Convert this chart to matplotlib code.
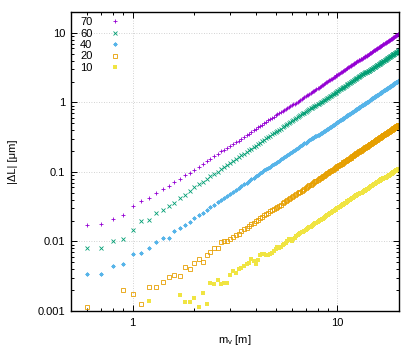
import matplotlib
matplotlib.use("Agg")
import matplotlib.pyplot as plt
from matplotlib.ticker import FuncFormatter, LogLocator, NullFormatter

# font with the Greek letters used in the axis label
plt.rcParams["font.family"] = ["Liberation Sans", "DejaVu Sans"]
plt.rcParams["font.size"] = 8
plt.rcParams["mathtext.fontset"] = "custom"
plt.rcParams["mathtext.rm"] = "Liberation Sans"

# --- data (m_v in m, |dL| in um) ---
mv = [0.6, 0.7, 0.8, 0.9, 1.0, 1.1, 1.2, 1.3, 1.4, 1.5, 1.6, 1.7, 1.8, 1.9,
      2.0, 2.1, 2.2, 2.3, 2.4, 2.5, 2.6, 2.7, 2.8, 2.9,
      3.0, 3.1, 3.2, 3.3, 3.4, 3.5, 3.6, 3.7, 3.8, 3.9,
      4.0, 4.1, 4.2, 4.3, 4.4, 4.5, 4.6, 4.7, 4.8, 4.9,
      5.0, 5.1, 5.2, 5.3, 5.4, 5.5, 5.6, 5.7, 5.8, 5.9,
      6.0, 6.1, 6.2, 6.3, 6.4, 6.5, 6.6, 6.7, 6.8, 6.9,
      7.0, 7.1, 7.2, 7.3, 7.4, 7.5, 7.6, 7.7, 7.8, 7.9,
      8.0, 8.1, 8.2, 8.3, 8.4, 8.5, 8.6, 8.7, 8.8, 8.9,
      9.0, 9.1, 9.2, 9.3, 9.4, 9.5, 9.6, 9.7, 9.8, 9.9,
      10.0, 10.1, 10.2, 10.3, 10.4, 10.5, 10.6, 10.7, 10.8, 10.9,
      11.0, 11.1, 11.2, 11.3, 11.4, 11.5, 11.6, 11.7, 11.8, 11.9,
      12.0, 12.1, 12.2, 12.3, 12.4, 12.5, 12.6, 12.7, 12.8, 12.9,
      13.0, 13.1, 13.2, 13.3, 13.4, 13.5, 13.6, 13.7, 13.8, 13.9,
      14.0, 14.1, 14.2, 14.3, 14.4, 14.5, 14.6, 14.7, 14.8, 14.9,
      15.0, 15.1, 15.2, 15.3, 15.4, 15.5, 15.6, 15.7, 15.8, 15.9,
      16.0, 16.1, 16.2, 16.3, 16.4, 16.5, 16.6, 16.7, 16.8, 16.9,
      17.0, 17.1, 17.2, 17.3, 17.4, 17.5, 17.6, 17.7, 17.8, 17.9,
      18.0, 18.1, 18.2, 18.3, 18.4, 18.5, 18.6, 18.7, 18.8, 18.9,
      19.0, 19.1, 19.2, 19.3, 19.4, 19.5, 19.6, 19.7, 19.8, 19.9, 20.0]

dl_70 = [0.0170, 0.0180, 0.0212, 0.0244, 0.0325, 0.0379, 0.0418, 0.0493, 0.0576, 0.0629, 0.0718, 0.0794, 0.0906, 0.0977,
         0.108, 0.119, 0.131, 0.143, 0.156, 0.169, 0.183, 0.197, 0.210, 0.223,
         0.236, 0.251, 0.266, 0.283, 0.301, 0.319, 0.337, 0.356, 0.375, 0.395,
         0.416, 0.437, 0.459, 0.481, 0.503, 0.527, 0.550, 0.574, 0.599, 0.624,
         0.650, 0.676, 0.703, 0.730, 0.758, 0.787, 0.815, 0.845, 0.868, 0.892,
         0.910, 0.935, 0.961, 0.992, 1.02, 1.06, 1.09, 1.12, 1.16, 1.19,
         1.23, 1.26, 1.30, 1.33, 1.37, 1.41, 1.44, 1.48, 1.52, 1.56,
         1.60, 1.64, 1.68, 1.72, 1.76, 1.81, 1.85, 1.89, 1.94, 1.98,
         2.03, 2.07, 2.12, 2.16, 2.21, 2.26, 2.30, 2.35, 2.40, 2.45,
         2.50, 2.55, 2.60, 2.65, 2.70, 2.76, 2.81, 2.86, 2.92, 2.97,
         3.03, 3.08, 3.14, 3.19, 3.25, 3.31, 3.36, 3.42, 3.48, 3.54,
         3.60, 3.66, 3.72, 3.78, 3.84, 3.91, 3.97, 4.02, 4.07, 4.11,
         4.16, 4.21, 4.27, 4.33, 4.40, 4.46, 4.53, 4.60, 4.67, 4.73,
         4.80, 4.87, 4.94, 5.01, 5.08, 5.15, 5.22, 5.29, 5.37, 5.44,
         5.51, 5.59, 5.66, 5.74, 5.81, 5.89, 5.96, 6.04, 6.12, 6.19,
         6.27, 6.35, 6.43, 6.51, 6.59, 6.67, 6.75, 6.83, 6.91, 7.00,
         7.08, 7.16, 7.25, 7.33, 7.42, 7.50, 7.59, 7.68, 7.76, 7.85,
         7.94, 8.03, 8.12, 8.20, 8.29, 8.39, 8.48, 8.57, 8.66, 8.75,
         8.84, 8.94, 9.03, 9.13, 9.22, 9.32, 9.41, 9.51, 9.60, 9.70, 9.80]

dl_60 = [0.00794, 0.00811, 0.0103, 0.0109, 0.0145, 0.0194, 0.0207, 0.0261, 0.0288, 0.0329, 0.0363, 0.0428, 0.0468, 0.0534,
         0.0600, 0.0662, 0.0726, 0.0794, 0.0864, 0.0938, 0.101, 0.109, 0.118, 0.126,
         0.135, 0.144, 0.154, 0.163, 0.173, 0.184, 0.194, 0.205, 0.217, 0.228,
         0.240, 0.252, 0.265, 0.277, 0.290, 0.304, 0.317, 0.331, 0.346, 0.360,
         0.375, 0.390, 0.406, 0.421, 0.437, 0.454, 0.470, 0.487, 0.505, 0.522,
         0.540, 0.558, 0.577, 0.595, 0.614, 0.634, 0.653, 0.673, 0.694, 0.714,
         0.735, 0.756, 0.778, 0.799, 0.821, 0.844, 0.862, 0.882, 0.902, 0.918,
         0.935, 0.955, 0.977, 0.999, 1.02, 1.05, 1.07, 1.10, 1.12, 1.15,
         1.17, 1.20, 1.23, 1.25, 1.28, 1.31, 1.34, 1.36, 1.39, 1.42,
         1.45, 1.48, 1.51, 1.54, 1.57, 1.60, 1.63, 1.66, 1.69, 1.72,
         1.75, 1.79, 1.82, 1.85, 1.88, 1.92, 1.95, 1.98, 2.02, 2.05,
         2.09, 2.12, 2.16, 2.19, 2.23, 2.27, 2.30, 2.34, 2.38, 2.41,
         2.45, 2.49, 2.53, 2.56, 2.60, 2.63, 2.67, 2.70, 2.73, 2.75,
         2.77, 2.80, 2.83, 2.86, 2.90, 2.94, 2.98, 3.03, 3.07, 3.11,
         3.15, 3.19, 3.23, 3.28, 3.32, 3.36, 3.41, 3.45, 3.49, 3.54,
         3.58, 3.63, 3.67, 3.72, 3.77, 3.81, 3.86, 3.90, 3.95, 4.00,
         4.05, 4.09, 4.14, 4.19, 4.24, 4.29, 4.34, 4.39, 4.44, 4.49,
         4.54, 4.59, 4.64, 4.69, 4.74, 4.79, 4.84, 4.90, 4.95, 5.00,
         5.05, 5.11, 5.16, 5.21, 5.27, 5.32, 5.38, 5.43, 5.49, 5.54, 5.60]

dl_40 = [0.00343, 0.00340, 0.00443, 0.00478, 0.00658, 0.00673, 0.00794, 0.00968, 0.0113, 0.0113, 0.0143, 0.0155, 0.0171, 0.0192,
         0.0216, 0.0238, 0.0261, 0.0286, 0.0311, 0.0338, 0.0365, 0.0394, 0.0423, 0.0454,
         0.0486, 0.0519, 0.0553, 0.0588, 0.0624, 0.0662, 0.0700, 0.0739, 0.0780, 0.0821,
         0.0864, 0.0908, 0.0953, 0.0998, 0.105, 0.109, 0.114, 0.119, 0.124, 0.130,
         0.135, 0.140, 0.146, 0.152, 0.157, 0.163, 0.169, 0.175, 0.182, 0.188,
         0.194, 0.201, 0.208, 0.214, 0.221, 0.228, 0.235, 0.242, 0.250, 0.257,
         0.265, 0.272, 0.280, 0.288, 0.296, 0.304, 0.312, 0.319, 0.326, 0.332,
         0.338, 0.344, 0.351, 0.358, 0.367, 0.376, 0.385, 0.394, 0.403, 0.412,
         0.421, 0.431, 0.440, 0.450, 0.459, 0.469, 0.479, 0.489, 0.499, 0.510,
         0.520, 0.530, 0.541, 0.552, 0.562, 0.573, 0.584, 0.595, 0.607, 0.618,
         0.629, 0.641, 0.652, 0.664, 0.676, 0.688, 0.700, 0.712, 0.724, 0.736,
         0.749, 0.761, 0.774, 0.787, 0.800, 0.812, 0.826, 0.839, 0.852, 0.865,
         0.879, 0.892, 0.906, 0.920, 0.934, 0.948, 0.962, 0.976, 0.990, 1.00,
         1.02, 1.03, 1.05, 1.06, 1.08, 1.09, 1.11, 1.12, 1.14, 1.15,
         1.17, 1.19, 1.20, 1.22, 1.23, 1.25, 1.27, 1.28, 1.30, 1.31,
         1.33, 1.35, 1.36, 1.38, 1.40, 1.42, 1.43, 1.45, 1.47, 1.49,
         1.50, 1.52, 1.54, 1.56, 1.57, 1.59, 1.61, 1.63, 1.65, 1.67,
         1.68, 1.70, 1.72, 1.74, 1.76, 1.78, 1.80, 1.82, 1.84, 1.86,
         1.88, 1.90, 1.92, 1.94, 1.96, 1.98, 2.00, 2.02, 2.04, 2.06, 2.08]

dl_20 = [0.00114, 0.00070, 0.00080, 0.00203, 0.00178, 0.00128, 0.00224, 0.00224, 0.00261, 0.00311, 0.00325, 0.00318, 0.00424, 0.00397,
         0.00494, 0.00552, 0.00500, 0.00645, 0.00695, 0.00801, 0.00811, 0.00977, 0.0101, 0.0100,
         0.0108, 0.0115, 0.0123, 0.0129, 0.0141, 0.0149, 0.0158, 0.0168, 0.0177, 0.0185,
         0.0195, 0.0204, 0.0216, 0.0226, 0.0237, 0.0248, 0.0259, 0.0272, 0.0284, 0.0295,
         0.0306, 0.0316, 0.0328, 0.0340, 0.0352, 0.0365, 0.0378, 0.0392, 0.0406, 0.0419,
         0.0432, 0.0447, 0.0461, 0.0476, 0.0492, 0.0507, 0.0523, 0.0539, 0.0555, 0.0571,
         0.0588, 0.0605, 0.0622, 0.0639, 0.0657, 0.0675, 0.0693, 0.0711, 0.0730, 0.0749,
         0.0768, 0.0787, 0.0807, 0.0827, 0.0847, 0.0867, 0.0888, 0.0908, 0.0929, 0.0951,
         0.0972, 0.0994, 0.102, 0.104, 0.106, 0.108, 0.111, 0.113, 0.115, 0.118,
         0.120, 0.122, 0.125, 0.127, 0.130, 0.132, 0.135, 0.137, 0.140, 0.143,
         0.145, 0.148, 0.151, 0.153, 0.156, 0.159, 0.161, 0.164, 0.167, 0.170,
         0.173, 0.176, 0.179, 0.182, 0.185, 0.188, 0.191, 0.194, 0.197, 0.200,
         0.203, 0.206, 0.209, 0.212, 0.215, 0.219, 0.222, 0.225, 0.229, 0.232,
         0.235, 0.239, 0.242, 0.245, 0.249, 0.252, 0.256, 0.259, 0.263, 0.266,
         0.270, 0.274, 0.277, 0.281, 0.285, 0.288, 0.292, 0.296, 0.300, 0.303,
         0.307, 0.311, 0.315, 0.319, 0.323, 0.327, 0.331, 0.335, 0.339, 0.343,
         0.347, 0.351, 0.355, 0.359, 0.363, 0.368, 0.372, 0.376, 0.380, 0.384,
         0.389, 0.393, 0.397, 0.402, 0.406, 0.411, 0.415, 0.420, 0.424, 0.429,
         0.433, 0.438, 0.442, 0.447, 0.452, 0.456, 0.461, 0.466, 0.470, 0.475, 0.480]

dl_10 = [0.00050, 0.00060, 0.00055, 0.00070, 0.00075, 0.00080, 0.00141, 0.00085, 0.00090, 0.00080, 0.00088, 0.00168, 0.00133, 0.00136,
         0.00154, 0.00114, 0.00184, 0.00125, 0.00252, 0.00241, 0.00282, 0.00247, 0.00252, 0.00252,
         0.00334, 0.00375, 0.00355, 0.00401, 0.00419, 0.00440, 0.00467, 0.00489, 0.00557, 0.00520,
         0.00478, 0.00534, 0.00645, 0.00650, 0.00666, 0.00640, 0.00629, 0.00650, 0.00690, 0.00719,
         0.00770, 0.00830, 0.00800, 0.00840, 0.00885, 0.00910, 0.00946, 0.0100, 0.0107, 0.0104,
         0.0103, 0.0108, 0.0113, 0.0119, 0.0123, 0.0127, 0.0131, 0.0135, 0.0139, 0.0143,
         0.0147, 0.0151, 0.0156, 0.0160, 0.0164, 0.0169, 0.0173, 0.0178, 0.0183, 0.0187,
         0.0192, 0.0197, 0.0202, 0.0207, 0.0210, 0.0211, 0.0219, 0.0227, 0.0232, 0.0238,
         0.0243, 0.0248, 0.0254, 0.0259, 0.0265, 0.0271, 0.0274, 0.0283, 0.0288, 0.0294,
         0.0300, 0.0306, 0.0312, 0.0318, 0.0324, 0.0331, 0.0337, 0.0343, 0.0350, 0.0356,
         0.0363, 0.0370, 0.0376, 0.0383, 0.0390, 0.0397, 0.0404, 0.0411, 0.0418, 0.0425,
         0.0432, 0.0439, 0.0447, 0.0454, 0.0461, 0.0469, 0.0475, 0.0482, 0.0487, 0.0491,
         0.0495, 0.0500, 0.0505, 0.0513, 0.0521, 0.0529, 0.0536, 0.0544, 0.0552, 0.0560,
         0.0568, 0.0577, 0.0585, 0.0593, 0.0601, 0.0610, 0.0618, 0.0627, 0.0635, 0.0644,
         0.0653, 0.0661, 0.0670, 0.0679, 0.0688, 0.0697, 0.0706, 0.0715, 0.0724, 0.0733,
         0.0742, 0.0752, 0.0761, 0.0771, 0.0780, 0.0788, 0.0795, 0.0801, 0.0806, 0.0810,
         0.0814, 0.0820, 0.0828, 0.0838, 0.0848, 0.0858, 0.0867, 0.0877, 0.0887, 0.0897,
         0.0907, 0.0917, 0.0927, 0.0938, 0.0948, 0.0958, 0.0969, 0.0979, 0.0990, 0.100,
         0.101, 0.102, 0.103, 0.104, 0.105, 0.106, 0.108, 0.109, 0.110, 0.111, 0.112]

labels = ["70", "60", "40", "20", "10"]
series = [dl_70, dl_60, dl_40, dl_20, dl_10]

# gnuplot-like point styles, small point size
styles = [
    dict(color="#9400d3", marker="+", ms=2.8, mew=0.6),
    dict(color="#009e73", marker="x", ms=2.4, mew=0.6),
    dict(color="#56b4e9", marker=(8, 2, 0), ms=2.8, mew=0.6),
    dict(color="#e69f00", marker="s", ms=2.5, mew=0.6, mfc="none"),
    dict(color="#f0e442", marker="s", ms=2.2, mew=0.0),
]

fig = plt.figure(figsize=(4.2, 3.6), dpi=100)
ax = fig.add_axes([71 / 420, 1 - 311 / 360, 328 / 420, 299 / 360])

for lab, ys, st in zip(labels, series, styles):
    ax.plot(mv, ys, linestyle="none", label=lab, **st)

ax.set_xscale("log")
ax.set_yscale("log")
ax.set_xlim(0.5, 20)
ax.set_ylim(0.001, 20)

fmt = FuncFormatter(lambda v, pos: "%g" % v)
ax.xaxis.set_major_formatter(fmt)
ax.yaxis.set_major_formatter(fmt)
ax.xaxis.set_minor_formatter(NullFormatter())
ax.yaxis.set_minor_locator(LogLocator(base=10, subs=range(2, 10), numticks=20))
ax.yaxis.set_minor_formatter(NullFormatter())

ax.tick_params(which="both", direction="in", top=True, right=True, width=0.7, labelsize=8)
ax.tick_params(which="major", length=4.5)
ax.tick_params(which="minor", length=2.2)
ax.tick_params(axis="y", pad=4)
ax.tick_params(axis="x", pad=5)
for sp in ax.spines.values():
    sp.set_linewidth(1.0)

ax.grid(which="major", linestyle=(0, (1, 2)), color="#c4c4c4", linewidth=0.6)
ax.set_axisbelow(True)

ax.legend(loc="upper left", bbox_to_anchor=(9 / 328, 0.983), borderaxespad=0, borderpad=0,
          frameon=False, markerfirst=False, numpoints=1, handlelength=1.0,
          handletextpad=1.5, labelspacing=0.13, fontsize=8)

fig.text(13 / 420, 1 - 161.5 / 360, "|ΔL| [μm]", rotation=90, ha="center", va="center", fontsize=8)
fig.text(235 / 420, 1 - 340 / 360, r"m$_\mathregular{v}$ [m]", ha="center", va="center", fontsize=8)

fig.savefig("out.png", dpi=100)
